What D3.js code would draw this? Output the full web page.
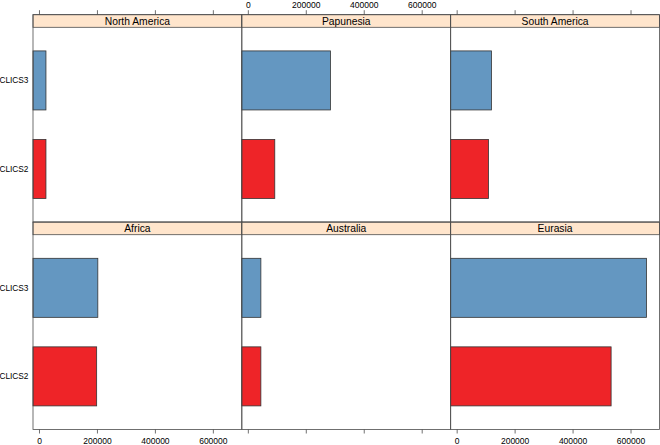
<!DOCTYPE html>
<html><head><meta charset="utf-8">
<script src="https://cdn.jsdelivr.net/npm/d3@7"></script>
<style>html,body{margin:0;padding:0;background:#fff;}svg{display:block;}</style>
</head><body>
<svg id="chart" width="660" height="445"></svg>
<script>
const regions = ["North America", "Papunesia", "South America", "Africa", "Australia", "Eurasia"];
const versions = ["CLICS2", "CLICS3"];
const clics2 = [24000, 93000, 110000, 199000, 45000, 533000];
const clics3 = [24000, 285000, 120000, 203000, 45000, 655000];
const xTicks = [0, 200000, 400000, 600000];
const xDomain = [-20700, 700000];
const barColors = { CLICS2: "#EE2428", CLICS3: "#6497C1" };

(function () {
const svg = d3.select("#chart");
const pLeft = 33, pRight = 659.5, pTop = 14.7, pBottom = 429.5;
const nCol = 3, nRow = 2;
const colW = (pRight - pLeft) / nCol, rowH = (pBottom - pTop) / nRow;
const stripH = 12.6;
const font = "Liberation Sans, Arial, Helvetica, sans-serif";
const lineCol = "#4d4d4d";

regions.forEach((reg, i) => {
  const col = i % nCol, row = Math.floor(i / nCol);
  const x0 = pLeft + col * colW, y0 = pTop + row * rowH;
  const x = d3.scaleLinear().domain(xDomain).range([x0, x0 + colW]);
  const y = d3.scaleLinear().domain([0.4, 2.6]).range([y0 + rowH, y0 + stripH]);
  const g = svg.append("g");
  const vals = { CLICS2: clics2[i], CLICS3: clics3[i] };
  const bh = y(0) - y(2 / 3);
  versions.forEach((v, k) => {
    const pos = k + 1;
    g.append("rect")
      .attr("x", x(xDomain[0]))
      .attr("y", y(pos) - bh / 2)
      .attr("width", x(vals[v]) - x(xDomain[0]))
      .attr("height", bh)
      .attr("fill", barColors[v])
      .attr("stroke", "#333")
      .attr("stroke-width", 0.8);
  });
  g.append("rect").attr("x", x0).attr("y", y0).attr("width", colW).attr("height", stripH)
    .attr("fill", "#FFE5CC").attr("stroke", lineCol).attr("stroke-width", 0.8);
  g.append("text").attr("x", x0 + colW / 2).attr("y", y0 + stripH / 2 + 3.7)
    .attr("text-anchor", "middle").attr("font-family", font).attr("font-size", 10.3)
    .attr("fill", "#000").text(reg);
  g.append("rect").attr("x", x0).attr("y", y0).attr("width", colW).attr("height", rowH)
    .attr("fill", "none").attr("stroke", lineCol).attr("stroke-width", 0.8);

  if (row === 0) {
    const ax = d3.axisTop(x).tickValues(xTicks).tickSize(4.5).tickSizeOuter(0).tickPadding(2)
      .tickFormat(col === 1 ? d3.format("d") : () => "");
    const a = svg.append("g").attr("transform", `translate(0,${y0})`).call(ax);
    a.select(".domain").remove();
    a.selectAll("line").attr("stroke", lineCol).attr("stroke-width", 0.8);
    a.selectAll("text").attr("font-family", font).attr("font-size", 8.5).attr("fill", "#000").attr("dy", "0em");
  }
  if (row === nRow - 1) {
    const ax = d3.axisBottom(x).tickValues(xTicks).tickSize(4).tickSizeOuter(0).tickPadding(4)
      .tickFormat(col !== 1 ? d3.format("d") : () => "");
    const a = svg.append("g").attr("transform", `translate(0,${y0 + rowH})`).call(ax);
    a.select(".domain").remove();
    a.selectAll("line").attr("stroke", lineCol).attr("stroke-width", 0.8);
    a.selectAll("text").attr("font-family", font).attr("font-size", 8.5).attr("fill", "#000").attr("dy", "0.71em");
  }
  if (col === 0) {
    versions.forEach((v, k) => {
      svg.append("text").attr("x", x0 - 4.5).attr("y", y(k + 1) + 3)
        .attr("text-anchor", "end").attr("font-family", font).attr("font-size", 8.3)
        .attr("fill", "#000").text(v);
    });
  }
});
})();
</script>
</body></html>
